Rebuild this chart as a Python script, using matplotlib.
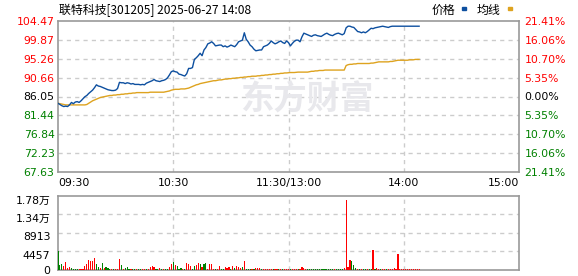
import matplotlib
matplotlib.use("Agg")
import matplotlib.pyplot as plt
import matplotlib.transforms as mtransforms
from matplotlib.patches import Rectangle
import numpy as np

# ---------------- data ----------------
title = "联特科技[301205] 2025-06-27 14:08"
prev_close = 86.05

price = [
    84.4, 84.1, 83.8, 83.6, 83.7, 83.6, 84.0, 84.6, 84.3, 84.7,
    84.8, 84.6, 85.0, 85.5, 86.0, 86.3, 86.8, 87.2, 87.6, 88.2,
    88.9, 88.6, 88.5, 88.3, 88.1, 87.9, 87.7, 87.6, 87.5, 87.5,
    87.6, 88.0, 89.5, 89.4, 89.4, 89.2, 89.4, 89.3, 89.1, 89.2,
    89.0, 89.0, 89.0, 88.9, 89.0, 88.9, 89.3, 89.5, 89.7, 89.9,
    90.2, 89.9, 89.8, 89.7, 89.9, 90.0, 90.2, 90.6, 91.3, 92.1,
    92.3, 92.1, 92.0, 91.5, 91.4, 91.2, 91.05, 91.6, 92.9, 92.9,
    93.1, 95.1, 95.5, 96.0, 96.6, 96.0, 97.4, 98.0, 98.9, 99.1,
    99.4, 99.0, 98.4, 98.5, 98.6, 98.6, 98.2, 98.4, 98.1, 98.3,
    98.6, 98.4, 98.2, 98.7, 99.4, 99.6, 99.8, 101.6, 100.0, 99.4,
    98.6, 98.2, 97.6, 97.2, 97.3, 97.4, 97.4, 98.2, 98.4, 98.6,
    99.0, 99.6, 99.2, 98.9, 99.1, 99.4, 99.6, 99.2, 99.0, 99.6,
    99.2, 98.4, 99.0, 99.5, 99.8, 99.8, 99.4, 100.6, 101.5, 101.3,
    101.1, 100.9, 100.7, 101.0, 101.1, 100.9, 100.8, 100.7, 101.0, 101.3,
    101.5, 101.2, 101.0, 100.9, 101.2, 101.4, 101.5, 101.3, 101.1, 101.4,
    102.8, 103.2, 103.2, 103.0, 102.9, 102.4, 101.9, 101.8, 101.6, 101.8,
    101.6, 101.9, 102.3, 102.7, 102.6, 102.8, 102.9, 103.0, 103.1, 103.2,
    103.1, 103.0, 102.9, 103.1, 103.2, 103.2, 103.2, 103.2, 103.2, 103.2,
    103.2, 103.2, 103.2, 103.2, 103.2, 103.2, 103.2, 103.2, 103.2,
]

avg_price = [
    84.4, 84.3, 84.2, 84.1, 84.0, 84.0, 84.0, 84.0, 84.0, 84.0,
    84.0, 84.0, 84.0, 84.0, 84.0, 84.1, 84.4, 84.7, 85.0, 85.2,
    85.4, 85.6, 85.8, 85.9, 86.0, 86.1, 86.2, 86.3, 86.3, 86.4,
    86.4, 86.5, 86.5, 86.6, 86.6, 86.7, 86.7, 86.8, 86.8, 86.9,
    86.9, 87.0, 87.0, 87.0, 87.0, 87.0, 87.0, 87.0, 87.1, 87.1,
    87.1, 87.1, 87.1, 87.1, 87.1, 87.1, 87.2, 87.3, 87.4, 87.6,
    87.7, 87.8, 87.8, 87.8, 87.9, 87.9, 87.9, 88.0, 88.1, 88.3,
    88.5, 88.7, 88.9, 89.0, 89.2, 89.3, 89.4, 89.5, 89.6, 89.7,
    89.8, 89.9, 89.9, 90.0, 90.1, 90.1, 90.2, 90.3, 90.3, 90.4,
    90.4, 90.5, 90.5, 90.6, 90.6, 90.7, 90.7, 90.8, 90.8, 90.9,
    90.9, 91.0, 91.0, 91.0, 91.1, 91.1, 91.2, 91.2, 91.3, 91.3,
    91.4, 91.4, 91.5, 91.5, 91.6, 91.6, 91.7, 91.7, 91.8, 91.8,
    91.85, 91.9, 91.9, 91.9, 91.95, 92.0, 92.0, 92.0, 92.0, 92.0,
    92.0, 92.1, 92.2, 92.2, 92.3, 92.3, 92.4, 92.4, 92.4, 92.5,
    92.5, 92.5, 92.5, 92.5, 92.5, 92.5, 92.5, 92.5, 92.5, 92.5,
    93.6, 93.8, 93.9, 93.9, 94.0, 94.0, 94.1, 94.1, 94.1, 94.1,
    94.1, 94.1, 94.1, 94.2, 94.2, 94.3, 94.4, 94.5, 94.5, 94.5,
    94.5, 94.5, 94.5, 94.6, 94.6, 94.7, 94.8, 94.9, 94.9, 94.9,
    94.9, 94.9, 94.9, 95.0, 95.0, 95.0, 95.1, 95.1, 95.1,
]

volume = [
    4600, 1300, 1500, 1000, 2000, 500, 750, 400, 250, 250,
    250, 250, 250, 300, 1000, 1550, 2300, 2150, 2050, 2800,
    1500, 750, 500, 1700, 500, 800, 550, 250, 250, 250,
    300, 300, 2550, 1300, 300, 600, 750, 250, 250, 250,
    250, 250, 250, 250, 250, 250, 250, 250, 750, 1000,
    750, 300, 250, 400, 250, 250, 250, 250, 750, 1500,
    1900, 1150, 900, 300, 500, 250, 250, 1700, 1500, 900,
    250, 1050, 1300, 1700, 1550, 650, 1550, 1700, 300, 1550,
    1550, 300, 250, 250, 1050, 300, 300, 750, 500, 650,
    300, 900, 400, 1000, 800, 550, 800, 2200, 250, 250,
    250, 250, 250, 550, 550, 500, 250, 250, 250, 250,
    250, 250, 300, 250, 250, 250, 300, 250, 250, 250,
    250, 250, 250, 250, 250, 250, 250, 750, 550, 250,
    250, 250, 250, 250, 250, 250, 250, 250, 250, 250,
    250, 250, 250, 250, 250, 250, 250, 250, 250, 500,
    16900, 700, 2500, 2200, 1250, 600, 250, 250, 250, 250,
    250, 250, 250, 250, 4750, 250, 500, 250, 250, 250,
    250, 250, 250, 250, 250, 500, 250, 3950, 250, 250,
    250, 250, 250, 250, 250, 250, 250, 250, 250,
]

# 1 = up minute (red), 0 = down minute (green)
vol_up = ("0001111000" "0111111111" "0010100010" "1110100010" "0100110111"
          "1001010011" "0100010111" "0011010011" "1101100111" "0101110100"
          "0101110111" "1101101011" "1011101111" "0000000000" "0000100001"
          "1110001010" "0100101101" "1011111111" "111111111")

price_ticks = ["104.47", "99.87", "95.26", "90.66", "86.05",
               "81.44", "76.84", "72.23", "67.63"]
pct_ticks = ["21.41%", "16.06%", "10.70%", "5.35%", "0.00%",
             "5.35%", "10.70%", "16.06%", "21.41%"]
time_ticks = ["09:30", "10:30", "11:30/13:00", "14:00", "15:00"]
time_pos = [0, 60, 120, 180, 240]
vol_tick_vals = [0, 4457, 8913, 13370, 17826]
vol_tick_labels = ["0", "4457", "8913", "1.34万", "1.78万"]

# ---------------- style ----------------
W, H = 578, 276
RED = "#ff0000"
GREEN = "#008000"
BLUE = "#0d4f9f"
GOLD = "#dea31f"
GRID = "#cccccc"
SPINE = "#999999"
NUMFONT = ["DejaVu Sans", "Noto Sans CJK SC"]
plt.rcParams["font.family"] = ["Noto Sans CJK SC", "DejaVu Sans"]

fig = plt.figure(figsize=(W / 100, H / 100), dpi=100)


def ax_rect(l, t, r, b):
    return [l / W, 1 - b / H, (r - l) / W, (b - t) / H]


# ---------------- main price axes ----------------
ax = fig.add_axes(ax_rect(58, 21, 519, 172))
x = np.arange(len(price))
pvals = [float(s) for s in price_ticks]
ymin, ymax = min(pvals), max(pvals)

ax.text(0.5, 0.5, "", transform=ax.transAxes)
fig.text(307 / W, 1 - 100 / H, "东方财富", fontsize=24, fontweight="bold",
         color="#e8e8ec", ha="center", va="center", zorder=0)

ax.plot(x, avg_price, color=GOLD, lw=1.0, zorder=3)
ax.plot(x, price, color=BLUE, lw=1.0, zorder=4)
ax.set_xlim(0, 240)
ax.set_ylim(ymin, ymax)
ax.patch.set_alpha(0)

for v in pvals[1:-1]:
    ax.axhline(v, color=GRID, lw=1, ls=(0, (3, 3)), zorder=1)
for t in time_pos[1:-1]:
    ax.axvline(t, color=GRID, lw=1, ls=(0, (3, 3)), zorder=1)
for s in ax.spines.values():
    s.set_color(SPINE)
    s.set_linewidth(1.2)

ax.set_yticks(pvals)
ax.set_yticklabels(price_ticks, fontfamily=NUMFONT, fontsize=7.8)
ax.tick_params(axis="y", length=0, pad=2.5)
for lbl, v in zip(ax.get_yticklabels(), pvals):
    lbl.set_color(RED if v > prev_close + 1e-6 else (GREEN if v < prev_close - 1e-6 else "#000000"))

ax.set_xticks(time_pos)
ax.set_xticklabels(time_ticks, fontfamily=NUMFONT, fontsize=7.8)
ax.tick_params(axis="x", length=0, pad=4)
xl = ax.get_xticklabels()
xl[0].set_horizontalalignment("left")
xl[-1].set_horizontalalignment("right")

ax2 = ax.twinx()
ax2.set_ylim(ymin, ymax)
ax2.set_yticks(pvals)
ax2.set_yticklabels(pct_ticks, fontfamily=NUMFONT, fontsize=7.8)
ax2.tick_params(axis="y", length=0, pad=4)
for lbl, v in zip(ax2.get_yticklabels(), pvals):
    lbl.set_color(RED if v > prev_close + 1e-6 else (GREEN if v < prev_close - 1e-6 else "#000000"))
for s in ax2.spines.values():
    s.set_visible(False)

# ---------------- title & legend ----------------
fig.text(59 / W, 1 - 10 / H, title, fontsize=8.6, color="#000000",
         ha="left", va="center", family=["Noto Sans CJK SC", "DejaVu Sans"])
fig.text(432 / W, 1 - 10 / H, "价格", fontsize=8.6, color="#000000",
         ha="left", va="center")
fig.text(477 / W, 1 - 10 / H, "均线", fontsize=8.6, color="#000000",
         ha="left", va="center")
fig.patches.append(Rectangle((462 / W, 1 - 10 / H), 4 / W, 2.5 / H,
                             transform=fig.transFigure, color=BLUE))
fig.patches.append(Rectangle((508 / W, 1 - 10 / H), 4 / W, 2.5 / H,
                             transform=fig.transFigure, color=GOLD))

# ---------------- volume axes ----------------
axv = fig.add_axes(ax_rect(58, 196, 519, 270))
vx = np.arange(len(volume))
vcolors = [RED if c == "1" else GREEN for c in vol_up]
axv.bar(vx, volume, width=0.6, color=vcolors, linewidth=0, zorder=3)
axv.set_xlim(0, 240)
axv.set_ylim(0, vol_tick_vals[-1])
for v in vol_tick_vals[1:-1]:
    axv.axhline(v, color=GRID, lw=1, ls=(0, (3, 3)), zorder=1)
for t in time_pos[1:-1]:
    axv.axvline(t, color=GRID, lw=1, ls=(0, (3, 3)), zorder=1)
for s in axv.spines.values():
    s.set_color(SPINE)
    s.set_linewidth(1.2)
axv.set_xticks([])
axv.set_yticks(vol_tick_vals)
axv.set_yticklabels(vol_tick_labels, fontfamily=NUMFONT, fontsize=7.8)
axv.tick_params(axis="y", length=0, pad=5.5)
off = mtransforms.ScaledTranslation(0, -2.5 / 72, fig.dpi_scale_trans)
for lbl in axv.get_yticklabels()[1:]:
    lbl.set_transform(lbl.get_transform() + off)

fig.savefig("out.png", dpi=100)
